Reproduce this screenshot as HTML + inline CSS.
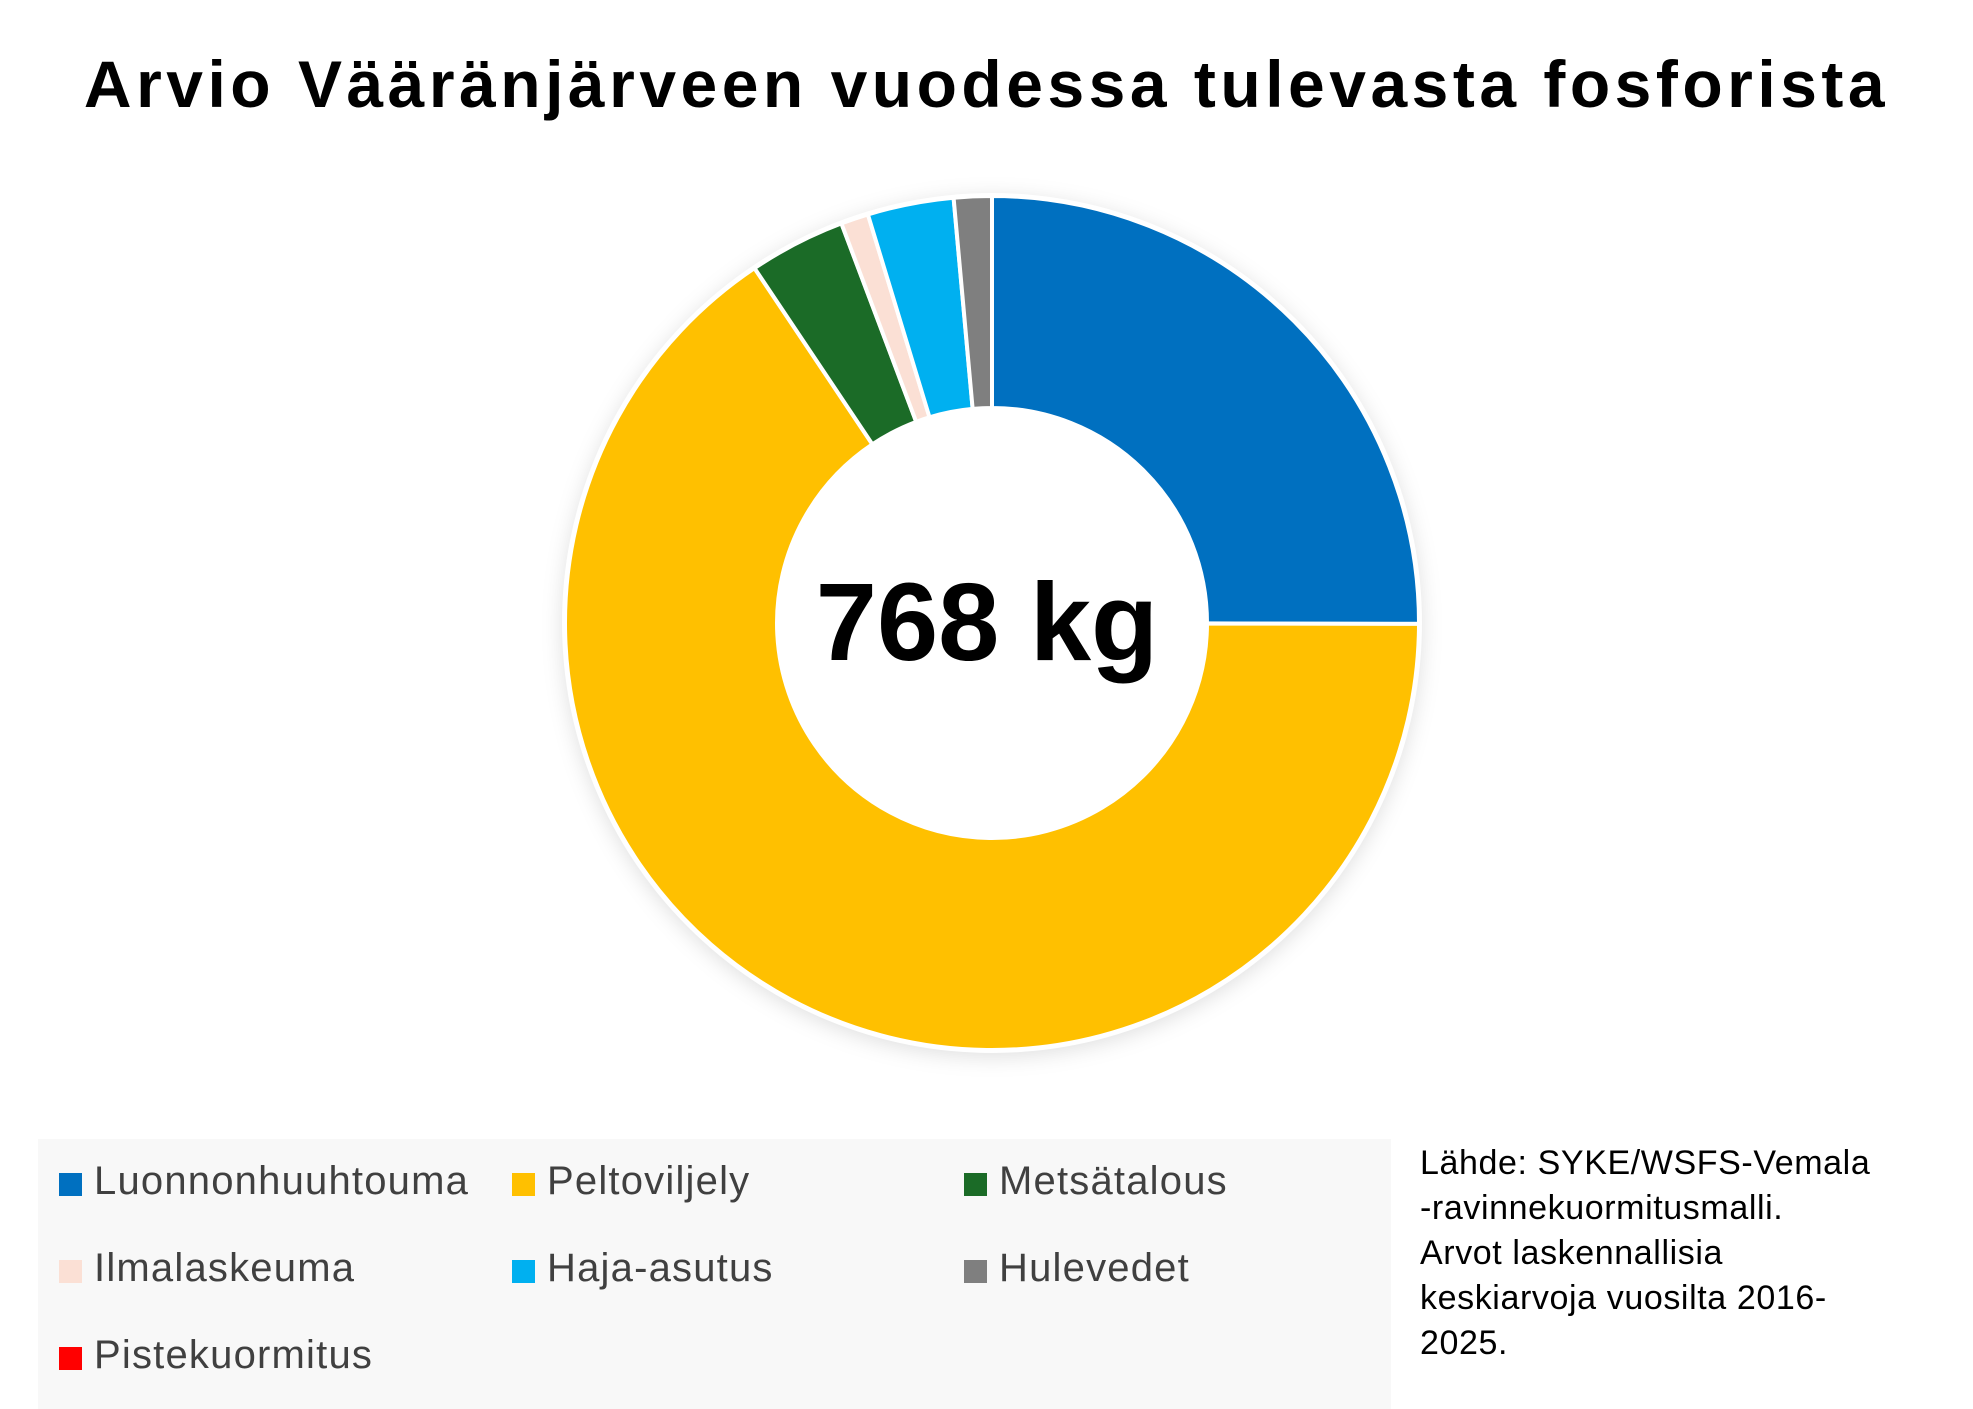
<!DOCTYPE html>
<html><head><meta charset="utf-8"><style>
body{margin:0;width:1973px;height:1409px;background:#fff;font-family:"Liberation Sans",sans-serif;overflow:hidden;position:relative}
#title{position:absolute;left:0;width:1973px;top:46px;text-align:center;font-size:66px;font-weight:bold;color:#000;letter-spacing:4.5px}
#legend{position:absolute;left:38px;top:1139px;width:1353px;height:270px;background:#f8f8f8}
.li{position:absolute;font-size:40px;color:#404040;white-space:nowrap;letter-spacing:1.2px}
.sw{display:inline-block;width:23px;height:23px;margin-right:12px;vertical-align:-2px}
#source{position:absolute;left:1420px;top:1141px;font-size:34px;line-height:45px;color:#000;letter-spacing:0.6px}
</style></head><body>
<div id="title">Arvio Vääränjärveen vuodessa tulevasta fosforista</div>
<svg id="chart" width="1973" height="1409" style="position:absolute;left:0;top:0">
<defs><filter id="sh" x="-20%" y="-20%" width="140%" height="140%"><feGaussianBlur stdDeviation="10"/></filter></defs>
<circle cx="992" cy="627" r="430" fill="rgba(0,0,0,0.12)" filter="url(#sh)"/>
<circle cx="992" cy="623" r="430" fill="#fff"/>
<g id="slices"></g>
<text x="987" y="660" text-anchor="middle" font-size="110" font-weight="bold" font-family="Liberation Sans, sans-serif" fill="#000">768 kg</text>
</svg>
<div id="legend"></div>
<div id="source">Lähde: SYKE/WSFS-Vemala<br>-ravinnekuormitusmalli.<br>Arvot laskennallisia<br>keskiarvoja vuosilta 2016-<br>2025.</div>
<script>
const categories=["Luonnonhuuhtouma","Peltoviljely","Metsätalous","Ilmalaskeuma","Haja-asutus","Hulevedet","Pistekuormitus"];
const values=[192,503,28,8,25,11,0];
const colors=["#0070C0","#FFC000","#1B6B27","#FBE0D5","#00B0F0","#7F7F7F","#FF0000"];
const cx=992,cy=623,R=427,r=215;
const ns="http://www.w3.org/2000/svg";
const total=values.reduce((a,b)=>a+b,0);
const g=document.getElementById('slices');
function pt(a,rad){return [cx+rad*Math.sin(a),cy-rad*Math.cos(a)];}
let a0=0;
values.forEach((v,i)=>{
  if(v<=0)return;
  const a1=a0+v/total*2*Math.PI;
  const large=(a1-a0)>Math.PI?1:0;
  const p1=pt(a0,R),p2=pt(a1,R),p3=pt(a1,r),p4=pt(a0,r);
  const p=document.createElementNS(ns,'path');
  p.setAttribute('d',`M${p1[0]},${p1[1]}A${R},${R} 0 ${large} 1 ${p2[0]},${p2[1]}L${p3[0]},${p3[1]}A${r},${r} 0 ${large} 0 ${p4[0]},${p4[1]}Z`);
  p.setAttribute('fill',colors[i]);
  p.setAttribute('stroke','#fff');
  p.setAttribute('stroke-width','4');
  
  
  g.appendChild(p);
  a0=a1;
});
const lg=document.getElementById('legend');
const colX=[21,474,926],rowY=[20,107,194];
categories.forEach((c,i)=>{
  const d=document.createElement('div');
  d.className='li';
  d.style.left=colX[i%3]+'px';
  d.style.top=rowY[Math.floor(i/3)]+'px';
  d.innerHTML=`<span class="sw" style="background:${colors[i]}"></span>${c}`;
  
  
  lg.appendChild(d);
});
</script>
</body></html>
